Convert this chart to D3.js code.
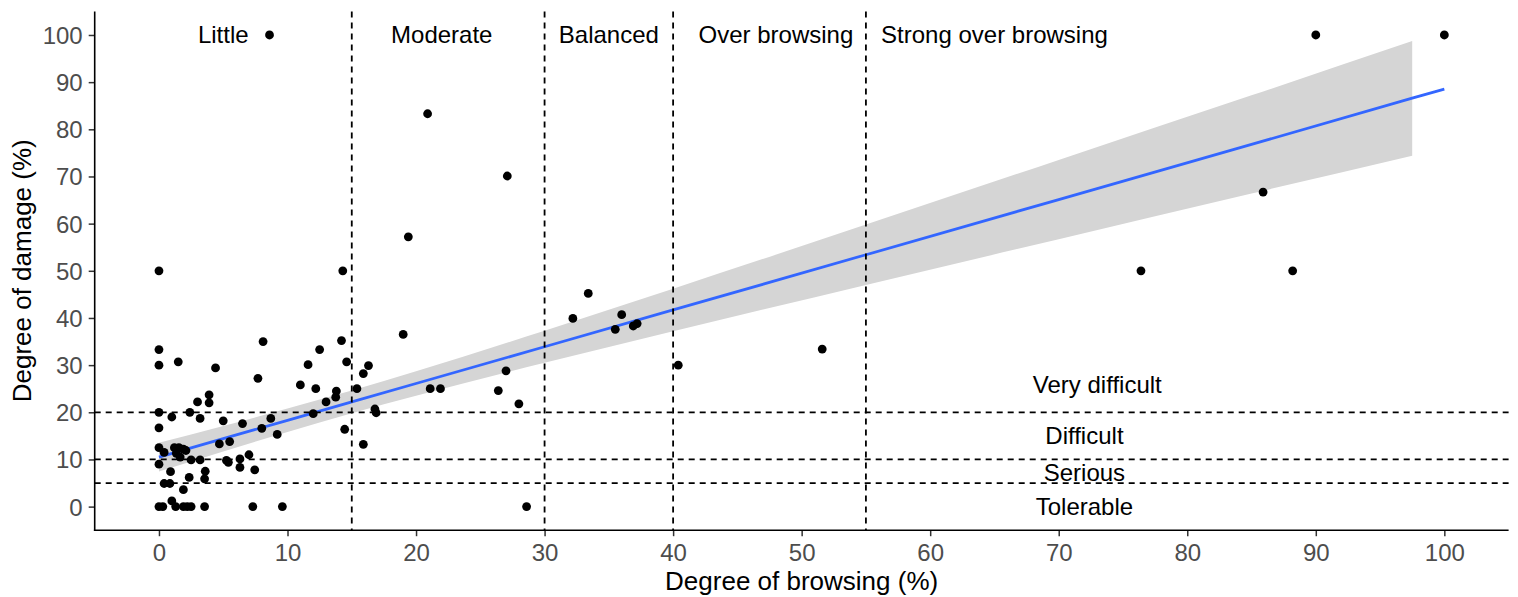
<!DOCTYPE html>
<html><head><meta charset="utf-8">
<script src="https://cdn.jsdelivr.net/npm/d3@7"></script>
<style>body{margin:0;background:#fff}svg{display:block}</style>
</head><body><svg id="c" width="1518" height="597"></svg>
<script>
// ---- data ----
const browsing = [
  0, 0, 0, 0, 0, 0, 0.4, 0, 0, 0.3,
  1.5, 1.0, 2.4, 3.2, 3.0, 3.9, 3.9, 4.4, 5.0, 6.5, 8.1, 7.7, 8.7, 8.0, 9.2,
  1.2, 1.55, 1.9, 2.1, 1.35, 1.65,
  2.5, 3.2, 4.7, 5.5, 5.25, 5.4, 6.3, 6.3, 7.0, 7.45,
  0.9, 2.35, 3.6, 3.55, 0.4, 0.85, 1.9, 1.0,
  1.3, 1.9, 2.2, 2.5, 3.55, 7.3, 9.6,
  11.0, 11.6, 12.0, 12.2, 12.5, 13.0, 13.75, 13.8, 14.2, 14.3, 14.45, 14.6, 15.4, 15.9, 15.9, 16.3, 16.8, 16.9,
  8.6, 19.0, 19.4, 20.9, 21.1, 21.9, 26.4, 27.0, 27.1, 28.0, 28.6,
  32.2, 33.4, 35.5, 36.0, 36.9, 37.2, 40.4, 51.6,
  76.4, 85.9, 88.2, 90, 100
];
const damage = [
  50, 33.3, 30, 20, 16.7, 12.5, 11.5, 9, 0, 0,
  30.7, 19.0, 20.0, 18.7, 22.2, 23.7, 22.0, 29.4, 18.2, 17.6, 35.0, 27.2, 18.7, 16.6, 15.3,
  12.5, 12.5, 12.2, 11.9, 11.3, 10.5,
  9.9, 9.9, 13.3, 13.8, 9.8, 9.4, 10.1, 8.3, 11.0, 7.8,
  7.4, 6.2, 7.5, 5.9, 4.9, 4.9, 3.6, 1.2,
  0, 0, 0, 0, 0, 0, 0,
  25.8, 30.1, 19.7, 25.0, 33.3, 22.2, 23.2, 24.5, 35.2, 50, 16.4, 30.7, 25.0, 28.2, 13.2, 29.9, 20.7, 19.9,
  100, 36.5, 57.2, 83.3, 25.0, 25.0, 24.6, 28.8, 70.1, 21.8, 0,
  39.9, 45.2, 37.6, 40.7, 38.3, 38.8, 30.0, 33.4,
  50, 66.7, 50, 100, 100
];
// linear smooth with its confidence band
const smoothX     = [0, 5, 10, 15, 20, 30, 40, 55, 70, 85, 97.5, 100];
const smoothFit   = [10.5, 14.4, 18.3, 22.2, 26.1, 33.9, 41.7, 53.4, 65.1, 76.8, 86.6, 88.5];
const smoothLower = [7.45, 11.7, 15.8, 19.8, 23.5, 30.5, 37.2, 47.0, 56.7, 66.4, 74.4, null];
const smoothUpper = [13.55, 17.1, 20.8, 24.6, 28.7, 37.3, 46.2, 59.8, 73.5, 87.2, 98.7, null];

const xTicks = [0, 10, 20, 30, 40, 50, 60, 70, 80, 90, 100];
const yTicks = [0, 10, 20, 30, 40, 50, 60, 70, 80, 90, 100];
const browsingBreaks = [15, 30, 40, 55];
const damageBreaks = [5, 10, 20];
const browsingLabels = ["Little", "Moderate", "Balanced", "Over browsing", "Strong over browsing"];
const browsingLabelX = [5, 22, 35, 48, 65];
const browsingLabelY = 100;
const damageLabels = ["Very difficult", "Difficult", "Serious", "Tolerable"];
const damageLabelX = [73, 72, 72, 72];
const damageLabelY = [25.8, 15, 7.2, 0];
const xTitle = "Degree of browsing (%)";
const yTitle = "Degree of damage (%)";

// ---- layout ----
const FONT = "'Liberation Sans', Arial, Helvetica, sans-serif";
const svg = d3.select("#c");
const L = 94.7, R = 1508.6, T = 11.4, B = 530.2;
const x = d3.scaleLinear().domain([-5, 105]).range([L, R]);
const y = d3.scaleLinear().domain([-5, 105]).range([B, T]);

const smooth = smoothX.map((v, i) => ({ x: v, y: smoothFit[i], lo: smoothLower[i], hi: smoothUpper[i] }));

// ribbon
svg.append("path").datum(smooth.filter(d => d.lo != null))
  .attr("d", d3.area().curve(d3.curveMonotoneX).x(d => x(d.x)).y0(d => y(d.lo)).y1(d => y(d.hi)))
  .attr("fill", "#d5d5d5");
// fit line
svg.append("path").datum(smooth)
  .attr("d", d3.line().x(d => x(d.x)).y(d => y(d.y)))
  .attr("fill", "none").attr("stroke", "#3366FF").attr("stroke-width", 2.8);

// points
svg.append("g").selectAll("circle").data(d3.range(browsing.length)).join("circle")
  .attr("cx", i => x(browsing[i])).attr("cy", i => y(damage[i]))
  .attr("r", 4.4).attr("fill", "#000");

// dashed reference lines
svg.append("g").selectAll("line").data(browsingBreaks).join("line")
  .attr("x1", d => x(d)).attr("x2", d => x(d)).attr("y1", T).attr("y2", B)
  .attr("stroke", "#000").attr("stroke-width", 1.8).attr("stroke-dasharray", "6,5");
svg.append("g").selectAll("line").data(damageBreaks).join("line")
  .attr("y1", d => y(d)).attr("y2", d => y(d)).attr("x1", L).attr("x2", R)
  .attr("stroke", "#000").attr("stroke-width", 1.8).attr("stroke-dasharray", "6,5");

// annotations
svg.append("g").selectAll("text").data(browsingLabels).join("text")
  .attr("x", (d, i) => x(browsingLabelX[i])).attr("y", y(browsingLabelY)).attr("dy", "0.35em")
  .attr("text-anchor", "middle").attr("font-family", FONT).attr("font-size", 24).attr("fill", "#000")
  .text(d => d);
svg.append("g").selectAll("text").data(damageLabels).join("text")
  .attr("x", (d, i) => x(damageLabelX[i])).attr("y", (d, i) => y(damageLabelY[i])).attr("dy", "0.35em")
  .attr("text-anchor", "middle").attr("font-family", FONT).attr("font-size", 24).attr("fill", "#000")
  .text(d => d);

// axes
const ax = svg.append("g").attr("transform", `translate(0,${B})`)
  .call(d3.axisBottom(x).tickValues(xTicks).tickSize(6).tickPadding(8).tickFormat(d3.format("d")));
const ay = svg.append("g").attr("transform", `translate(${L},0)`)
  .call(d3.axisLeft(y).tickValues(yTicks).tickSize(6).tickPadding(6).tickFormat(d3.format("d")));
[ax, ay].forEach(g => {
  g.select(".domain").remove();
  g.selectAll(".tick line").attr("stroke", "#333").attr("stroke-width", 1.5);
  g.selectAll(".tick text").attr("font-family", FONT).attr("font-size", 24).attr("fill", "#4D4D4D");
});
ay.selectAll(".tick text").attr("dy", "0.35em");
// axis lines
svg.append("line").attr("x1", L).attr("x2", L).attr("y1", T).attr("y2", B + 0.8)
  .attr("stroke", "#000").attr("stroke-width", 1.6);
svg.append("line").attr("x1", L - 0.8).attr("x2", R).attr("y1", B).attr("y2", B)
  .attr("stroke", "#000").attr("stroke-width", 1.6);

// titles
svg.append("text").attr("x", (L + R) / 2).attr("y", 590).attr("text-anchor", "middle")
  .attr("font-family", FONT).attr("font-size", 26).attr("fill", "#000").text(xTitle);
svg.append("text").attr("transform", `translate(31,${(T + B) / 2}) rotate(-90)`).attr("text-anchor", "middle")
  .attr("font-family", FONT).attr("font-size", 26).attr("fill", "#000").text(yTitle);
</script>
</body></html>
